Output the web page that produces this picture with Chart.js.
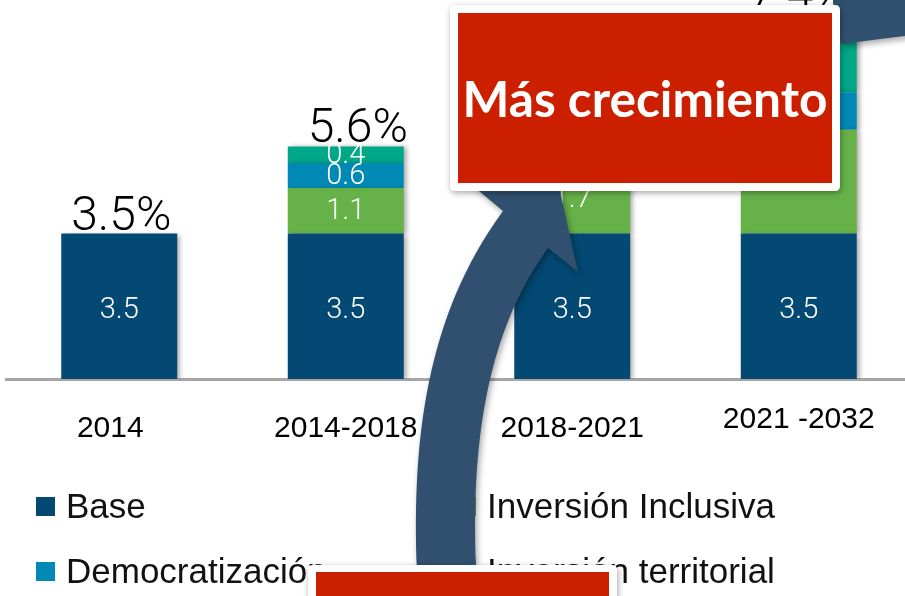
<!DOCTYPE html>
<html>
<head>
<meta charset="utf-8">
<script src="https://cdn.jsdelivr.net/npm/chart.js@4.4.1/dist/chart.umd.min.js"></script>
<style>
    html, body {margin: 0; padding: 0; background: #fff; overflow: hidden;}
    #wrap {position: relative; width: 912px; height: 596px;}
</style>
</head>
<body>
<div id="wrap"><canvas id="chartCrecimiento" width="912" height="596"></canvas></div>
<script>
var periodos = ['2014', '2014-2018', '2018-2021', '2021 -2032'];
var base = [3.5, 3.5, 3.5, 3.5];
var inversionInclusiva = [null, 1.1, 1.7, 2.5];
var democratizacion = [null, 0.6, 0.7, 0.9];
var inversionTerritorial = [null, 0.4, 0.5, 1.9];
var totales = ['3.5%', '5.6%', '6.4%', '7.4%'];

// small nudges for the labels (the slide is not perfectly aligned)
var labelDx = [-9, 0, 0, 0];
var labelDy = [0, 0, 0, -9];
var totalDx = [2, 12, 0, 0];

var arrowColor = '#31506f';

function roundRect(c, x, y, w, h, r) {
    c.beginPath();
    c.moveTo(x + r, y);
    c.lineTo(x + w - r, y);
    c.quadraticCurveTo(x + w, y, x + w, y + r);
    c.lineTo(x + w, y + h - r);
    c.quadraticCurveTo(x + w, y + h, x + w - r, y + h);
    c.lineTo(x + r, y + h);
    c.quadraticCurveTo(x, y + h, x, y + h - r);
    c.lineTo(x, y + r);
    c.quadraticCurveTo(x, y, x + r, y);
    c.closePath();
}

function redBox(c, ox, oy, ow, oh, ix, iy, iw, ih) {
    c.save();
    c.shadowColor = 'rgba(0,0,0,0.35)';
    c.shadowBlur = 6;
    c.shadowOffsetX = 1;
    c.shadowOffsetY = 2;
    c.fillStyle = '#ffffff';
    roundRect(c, ox, oy, ow, oh, 5);
    c.fill();
    c.restore();
    c.fillStyle = '#cc1f00';
    c.fillRect(ix, iy, iw, ih);
}

var overlay = {
    id: 'overlay',
    beforeDatasetsDraw: function (chart) {
        var c = chart.ctx;
        c.save();
        c.shadowColor = 'rgba(0,0,0,0.35)';
        c.shadowBlur = 5;
        c.shadowOffsetX = 3;
        c.shadowOffsetY = 1;
    },
    afterDatasetsDraw: function (chart) {
        chart.ctx.restore();
    },
    afterDraw: function (chart) {
        var c = chart.ctx;
        var sets = chart.data.datasets;
        var xScale = chart.scales.x;

        // values inside the segments
        c.save();
        c.fillStyle = '#ffffff';
        c.font = '300 29px Roboto, Lato, sans-serif';
        c.textAlign = 'center';
        c.textBaseline = 'middle';
        sets.forEach(function (ds, i) {
            var meta = chart.getDatasetMeta(i);
            ds.data.forEach(function (v, j) {
                if (v === null) return;
                var bar = meta.data[j];
                var dy = i === 0 ? 4 : 1;
                c.fillText(v.toFixed(1), bar.x, (bar.y + bar.base) / 2 + dy);
            });
        });

        // totals on top
        c.fillStyle = '#000000';
        c.font = '300 48px Roboto, Lato, sans-serif';
        c.textBaseline = 'alphabetic';
        periodos.forEach(function (p, j) {
            var top = Infinity, x = 0;
            sets.forEach(function (ds, i) {
                if (ds.data[j] === null) return;
                var bar = chart.getDatasetMeta(i).data[j];
                if (bar.y < top) { top = bar.y; x = bar.x; }
            });
            c.fillText(totales[j], x + totalDx[j], top - 4);
        });

        // category labels
        c.font = '30px "Liberation Sans", Arial, sans-serif';
        c.textBaseline = 'middle';
        periodos.forEach(function (p, j) {
            c.fillText(p, xScale.getPixelForValue(j) + labelDx[j], 429 + labelDy[j]);
        });

        // legend, two columns
        var cols = [36, 457];
        var rows = [507, 572];
        c.textAlign = 'left';
        c.font = '35px "Liberation Sans", Arial, sans-serif';
        sets.forEach(function (ds, i) {
            var lx = cols[i % 2], ly = rows[Math.floor(i / 2)];
            c.fillStyle = ds.backgroundColor;
            c.fillRect(lx, ly - 10, 19, 19);
            c.fillStyle = '#111111';
            c.fillText(ds.label, lx + 30, ly + 1);
        });
        c.restore();

        // curved arrow
        c.save();
        c.shadowColor = 'rgba(0,0,0,0.35)';
        c.shadowBlur = 6;
        c.shadowOffsetX = 2;
        c.shadowOffsetY = 3;
        c.fillStyle = arrowColor;
        c.beginPath();
        c.moveTo(417, 570);
        c.bezierCurveTo(412, 440, 426, 316, 503, 211);
        c.lineTo(473, 186);
        c.lineTo(553, 160);
        c.lineTo(578, 272);
        c.lineTo(548, 248);
        c.bezierCurveTo(483, 337, 472, 454, 476, 564);
        c.closePath();
        c.fill();

        // piece of the other arrow, top right
        c.beginPath();
        c.moveTo(833, 0);
        c.lineTo(912, 0);
        c.lineTo(912, 35);
        c.lineTo(841, 44);
        c.closePath();
        c.fill();
        c.restore();

        // callout boxes
        redBox(c, 450, 5, 390, 186, 458, 13, 374, 170);
        redBox(c, 308, 565, 309, 40, 316, 572, 293, 30);

        c.save();
        c.fillStyle = '#ffffff';
        c.textAlign = 'center';
        c.textBaseline = 'alphabetic';
        var size = 48;
        c.font = 'bold ' + size + 'px Lato, "Open Sans", sans-serif';
        var w = c.measureText('Más crecimiento').width;
        size = size * 365 / w;
        c.font = 'bold ' + size.toFixed(1) + 'px Lato, "Open Sans", sans-serif';
        c.fillText('Más crecimiento', 645, 117);
        c.restore();
    }
};

var barData = {
    labels: periodos,
    datasets: [
        {label: 'Base', data: base, backgroundColor: '#034973'},
        {label: 'Inversión Inclusiva', data: inversionInclusiva, backgroundColor: '#66b249'},
        {label: 'Democratización', data: democratizacion, backgroundColor: '#0089b5'},
        {label: 'Inversión territorial', data: inversionTerritorial, backgroundColor: '#00a887'}
    ]
};
barData.datasets.forEach(function (ds) {
    ds.barPercentage = 0.512;
    ds.categoryPercentage = 1;
    ds.borderWidth = 0;
});

var barOptions = {
    responsive: false,
    animation: false,
    layout: {padding: {left: 6, right: 0, top: 1, bottom: 217}},
    plugins: {legend: {display: false}, tooltip: {enabled: false}},
    scales: {
        x: {
            stacked: true,
            grid: {display: false, drawTicks: false},
            border: {display: true, color: '#a6a6a6', width: 3},
            ticks: {display: false}
        },
        y: {stacked: true, display: false, min: 0, max: 9.1}
    }
};

var drawBarGraph = document.getElementById('chartCrecimiento').getContext('2d');
new Chart(drawBarGraph, {type: 'bar', data: barData, options: barOptions, plugins: [overlay]});
</script>
</body>
</html>
